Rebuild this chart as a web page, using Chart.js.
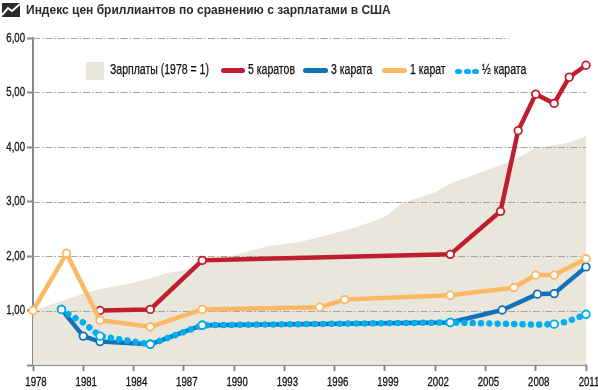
<!DOCTYPE html>
<html lang="ru"><head><meta charset="utf-8">
<style>
html,body{margin:0;padding:0;background:#fff;width:598px;height:390px;overflow:hidden}
#wrap{position:relative;width:598px;height:390px}
canvas{position:absolute;left:0;top:0}
#icon{position:absolute;left:2px;top:3px}
#title{position:absolute;left:26px;top:1px;font:bold 12px "Liberation Sans",sans-serif;color:#2b2b2b;white-space:nowrap;line-height:18px}
.lg{position:absolute;top:61px;height:18px;line-height:18px;font:14px "Liberation Sans",sans-serif;color:#111;white-space:nowrap;transform:scaleX(.75);transform-origin:left center;-webkit-text-stroke:.25px #111}
.sw{position:absolute}
</style></head><body>
<div id="wrap">
<canvas id="c" width="598" height="390"></canvas>
<svg id="icon" width="18" height="14" viewBox="0 0 18 14"><rect width="18" height="14" fill="#2b2b2b"/><path d="M0 12 L6 5 L10 8 L18 1" stroke="#fff" stroke-width="2" fill="none"/></svg>
<div id="title">Индекс цен бриллиантов по сравнению с зарплатами в США</div>
<div class="sw" style="left:86px;top:62px;width:18px;height:18px;background:#e9e6dc"></div>
<div class="lg" style="left:110px">Зарплаты (1978 = 1)</div>
<div class="sw" style="left:221px;top:68px;width:24px;height:5px;border-radius:3px;background:#be1e2d"></div>
<div class="lg" style="left:248px">5 каратов</div>
<div class="sw" style="left:303px;top:68px;width:25px;height:5px;border-radius:3px;background:#1272b9"></div>
<div class="lg" style="left:331px">3 карата</div>
<div class="sw" style="left:382px;top:68px;width:25px;height:5px;border-radius:3px;background:#fdb863"></div>
<div class="lg" style="left:410px">1 карат</div>
<div class="sw" style="left:455px;top:69px;width:7px;height:5px;border-radius:3px;background:#00aeef"></div>
<div class="sw" style="left:463.5px;top:69px;width:7px;height:5px;border-radius:3px;background:#00aeef"></div>
<div class="sw" style="left:472px;top:69px;width:7px;height:5px;border-radius:3px;background:#00aeef"></div>
<div class="lg" style="left:482px">½ карата</div>
</div>
<script src="https://cdn.jsdelivr.net/npm/chart.js@4"></script>
<script>
const yTickLabels = {1:"1,00",2:"2,00",3:"3,00",4:"4,00",5:"5,00",6:"6,00"};

const wageYears  = [1978,1980,1981,1982,1984,1985,1986,1987,1988,1990,1992,1994,1997,1998.7,1999.1,2000,2002,2003,2004,2006.7,2008,2010,2011];
const wageValues = [1.0,1.2,1.31,1.39,1.51,1.59,1.69,1.74,1.84,2.02,2.18,2.26,2.5,2.68,2.74,2.97,3.17,3.34,3.45,3.76,3.98,4.08,4.2];

const ct5Years  = [1982,1985,1988.1,2002.9,2005.9,2006.95,2008,2009.1,2010,2011];
const ct5Values = [1.0,1.02,1.92,2.03,2.82,4.3,4.97,4.8,5.28,5.5];

const ct3Years  = [1979.7,1981,1982,1985,1988.1,2002.9,2006,2008.1,2009.1,2011];
const ct3Values = [1.02,0.53,0.43,0.38,0.73,0.78,1.01,1.3,1.31,1.8];

const ct1Years  = [1978,1980,1982,1985,1988.1,1995.1,1996.6,2002.9,2006.7,2008,2009.1,2011];
const ct1Values = [1.0,2.05,0.82,0.7,1.02,1.06,1.2,1.28,1.42,1.65,1.65,1.95];

const halfYears  = [1979.7,1980,1981,1982,1983,1984,1985,1988.1,2002.9,2005,2008,2009.1,2009.7,2010.3,2011];
const halfValues = [1.02,0.95,0.78,0.53,0.48,0.43,0.38,0.73,0.78,0.765,0.74,0.75,0.785,0.845,0.93];
const halfMarkers = [1979.7,1982,1985,1988.1,2002.9,2009.1,2011];

const toXY = (xs, ys) => xs.map((x, i) => ({x, y: ys[i]}));
const lineDs = (label, xs, ys, color, order) => ({
  label, data: toXY(xs, ys), borderColor: color, backgroundColor: color,
  borderWidth: 4.5, tension: 0, order, fill: false, borderJoinStyle: 'round', clip: false,
  pointRadius: 3.8, pointBorderWidth: 1.8, pointBackgroundColor: '#fff', pointBorderColor: color
});

const gridPlugin = {
  id: 'dashGrid',
  afterDatasetDraw(chart, args) {
    if (args.index !== 0) return;
    const {ctx, scales: {x, y}} = chart;
    ctx.save();
    ctx.strokeStyle = '#a5a5a5';
    ctx.lineWidth = 1;
    ctx.setLineDash([7, 2, 1.5, 2]);
    for (const v of Object.keys(yTickLabels).map(Number)) {
      const py = Math.round(y.getPixelForValue(v)) + 0.5;
      ctx.beginPath();
      ctx.moveTo(x.left, py);
      ctx.lineTo(x.getPixelForValue(v === 6 ? 2006.4 : 2011), py);
      ctx.stroke();
    }
    ctx.restore();
  }
};

const axisFont = {family: '"Liberation Sans",sans-serif', size: 13, weight: 'normal'};

const canvas = document.getElementById('c');
const ctx2d = canvas.getContext('2d');
const baseFillText = ctx2d.fillText.bind(ctx2d);
// Narrow the axis labels: no condensed face is installed, so squeeze the glyphs horizontally.
ctx2d.fillText = (t, x, y) => {
  ctx2d.save();
  ctx2d.translate(Math.min(x, 585), y);
  ctx2d.scale(0.74, 1);
  ctx2d.strokeStyle = ctx2d.fillStyle;
  ctx2d.lineWidth = 0.3;
  ctx2d.setLineDash([]);
  ctx2d.strokeText(t, 0, 0);
  baseFillText(t, 0, 0);
  ctx2d.restore();
};

new Chart(canvas, {
  type: 'line',
  data: {datasets: [
    {label: 'Зарплаты (1978 = 1)', data: toXY(wageYears, wageValues), borderWidth: 0, pointRadius: 0,
     backgroundColor: '#e9e6dc', fill: 'origin', tension: 0, order: 10},
    lineDs('5 каратов', ct5Years, ct5Values, '#be1e2d', 4),
    lineDs('3 карата', ct3Years, ct3Values, '#1272b9', 3),
    lineDs('1 карат', ct1Years, ct1Values, '#fdb863', 2),
    Object.assign(lineDs('½ карата', halfYears, halfValues, '#00aeef', 1), {
      borderWidth: 6.5, borderDash: [0.01, 8.3], borderCapStyle: 'round',
      pointRadius: c => halfMarkers.includes(c.raw && c.raw.x) ? 3.8 : 0
    })
  ]},
  options: {
    responsive: false, animation: false,
    layout: {autoPadding: false, padding: {left: 0, right: 12, top: 38, bottom: 0}},
    plugins: {legend: {display: false}, title: {display: false}, tooltip: {enabled: false}},
    scales: {
      x: {type: 'linear', min: 1978, max: 2011,
        afterFit: s => { s.height = 25; s.paddingRight = 0; s.paddingLeft = 0; },
        border: {color: '#88888a', width: 2},
        grid: {drawOnChartArea: false, tickLength: 6, tickWidth: 2, tickColor: '#88888a'},
        ticks: {stepSize: 3, autoSkip: false, maxRotation: 0, padding: 4, labelOffset: 3, color: '#111', font: axisFont,
                callback: v => String(v)}},
      y: {type: 'linear', min: 0, max: 6,
        afterFit: s => { s.width = 33; },
        border: {color: '#88888a', width: 2},
        grid: {drawOnChartArea: false, tickLength: 6, tickWidth: 2, tickColor: '#88888a'},
        ticks: {stepSize: 1, padding: 2, color: '#111', font: axisFont,
                callback: v => yTickLabels[v] || ''}}
    }
  },
  plugins: [gridPlugin]
});
</script>
</body></html>
